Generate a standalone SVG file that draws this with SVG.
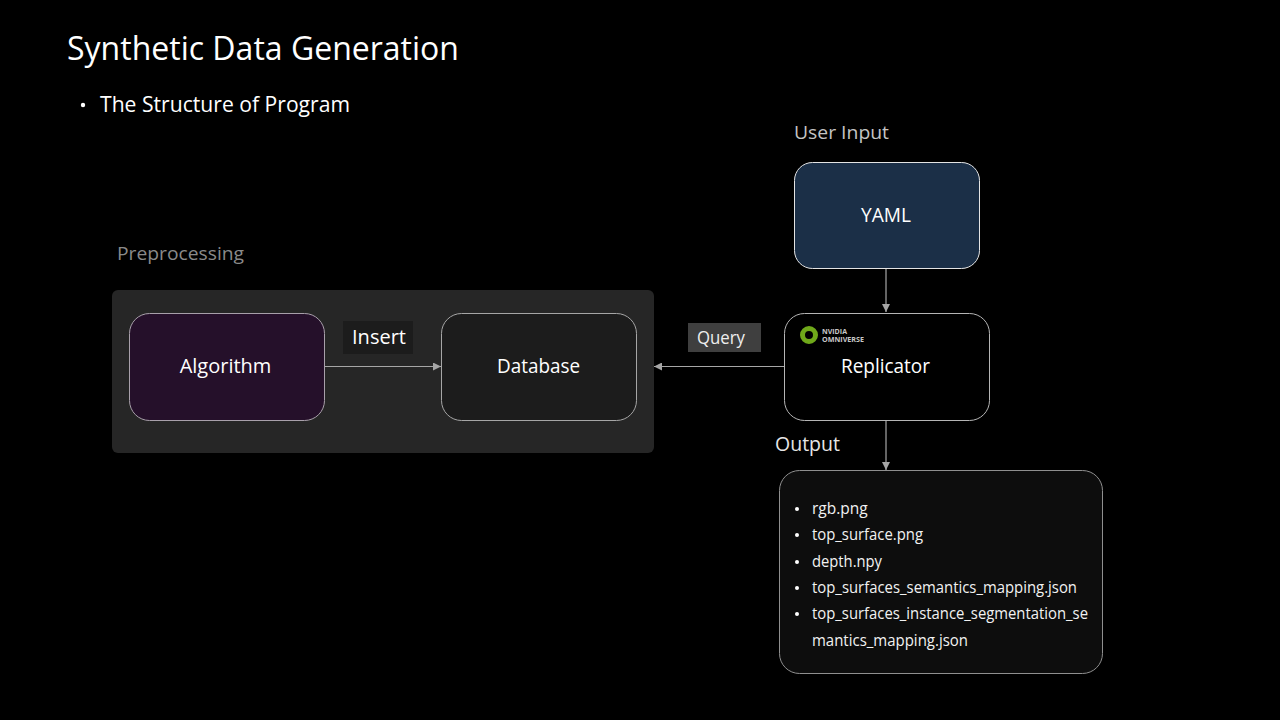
<svg xmlns="http://www.w3.org/2000/svg" width="1280" height="720" viewBox="0 0 1280 720">
<style>
text{font-family:"Open Sans","Noto Sans","Liberation Sans",sans-serif;fill:#fff}
.c{stroke:#a6a6a6;stroke-width:1.2;fill:none;marker-end:url(#a)}
.l{font-size:20px;text-anchor:middle}
.o{font-size:15.5px;fill:#f2f2f2}
.m{font-size:6.500px;font-weight:700;fill:#c8c8c8}
</style>
<defs><marker id="a" markerUnits="userSpaceOnUse" markerWidth="9" markerHeight="8" refX="8" refY="4" orient="auto"><path d="M0 0L8 4L0 8Z" fill="#a6a6a6"/></marker></defs>
<rect width="1280" height="720" fill="#000"/>
<text id="title" x="67" y="60" font-size="33" textLength="392" lengthAdjust="spacingAndGlyphs">Synthetic Data Generation</text>
<circle cx="83" cy="105" r="2.200" fill="#fff"/>
<text id="subtitle" x="100" y="112" font-size="21" textLength="250" lengthAdjust="spacingAndGlyphs">The Structure of Program</text>
<text id="user-input" x="794" y="139" font-size="19" style="fill:#c4c4c4" textLength="95" lengthAdjust="spacingAndGlyphs">User Input</text>
<text id="preprocessing" x="117" y="260" font-size="19" style="fill:#8a8a8a" textLength="127" lengthAdjust="spacingAndGlyphs">Preprocessing</text>
<text id="output-label" x="775" y="451" font-size="20" style="fill:#e6e6e6" textLength="65" lengthAdjust="spacingAndGlyphs">Output</text>
<g id="preprocessing-panel"><rect x="112" y="290" width="542" height="163" rx="6" fill="#262626"/></g>
<g id="connectors">
<path class="c" d="M886 269V312"/>
<path class="c" d="M325 366.500H441"/>
<path class="c" d="M785 366.500H654"/>
<path class="c" d="M886 421V470"/>
</g>
<g id="yaml"><rect x="794.500" y="162.500" width="185" height="106" rx="18" fill="#1b2f47" stroke="#e4e4e4"/><text class="l" x="886" y="222" textLength="50" lengthAdjust="spacingAndGlyphs">YAML</text></g>
<g id="algorithm"><rect x="129.500" y="313.500" width="195" height="107" rx="20" fill="#25102a" stroke="#a8a0aa"/><text class="l" x="225.500" y="373">Algorithm</text></g>
<g id="database"><rect x="441.500" y="313.500" width="195" height="107" rx="20" fill="#1c1c1c" stroke="#a6a6a6"/><text class="l" x="538.500" y="373" textLength="83" lengthAdjust="spacingAndGlyphs">Database</text></g>
<g id="insert-label"><rect x="343" y="321" width="70" height="33" fill="#1c1c1c"/><text class="l" x="379" y="344">Insert</text></g>
<g id="query-label"><rect x="688" y="323" width="73" height="29" fill="#3f3f3f"/><text x="721" y="344" font-size="18" text-anchor="middle" style="fill:#eee" textLength="48" lengthAdjust="spacingAndGlyphs">Query</text></g>
<g id="replicator"><rect x="784.500" y="313.500" width="205" height="107" rx="20" fill="#000" stroke="#b5b5b5"/>
<circle cx="809" cy="335" r="6.500" fill="none" stroke="#6fa81a" stroke-width="5"/>
<text class="m" x="822" y="334" textLength="25" lengthAdjust="spacingAndGlyphs">NVIDIA</text><text class="m" x="822" y="341.500" textLength="42" lengthAdjust="spacingAndGlyphs">OMNIVERSE</text>
<text class="l" x="885.500" y="373" textLength="89" lengthAdjust="spacingAndGlyphs">Replicator</text></g>
<g id="output"><rect x="779.500" y="470.500" width="323" height="203" rx="20" fill="#0d0d0d" stroke="#8f8f8f"/>
<circle cx="797" cy="509" r="2" fill="#fff"/><text class="o" x="812" y="514">rgb.png</text>
<circle cx="797" cy="535" r="2" fill="#fff"/><text class="o" x="812" y="540" textLength="111" lengthAdjust="spacingAndGlyphs">top_surface.png</text>
<circle cx="797" cy="562" r="2" fill="#fff"/><text class="o" x="812" y="567" textLength="70" lengthAdjust="spacingAndGlyphs">depth.npy</text>
<circle cx="797" cy="588" r="2" fill="#fff"/><text class="o" x="812" y="593" textLength="265" lengthAdjust="spacingAndGlyphs">top_surfaces_semantics_mapping.json</text>
<circle cx="797" cy="614" r="2" fill="#fff"/><text class="o" x="812" y="619" textLength="276" lengthAdjust="spacingAndGlyphs">top_surfaces_instance_segmentation_se</text>
<text class="o" x="812" y="646" textLength="156" lengthAdjust="spacingAndGlyphs">mantics_mapping.json</text></g>
</svg>
